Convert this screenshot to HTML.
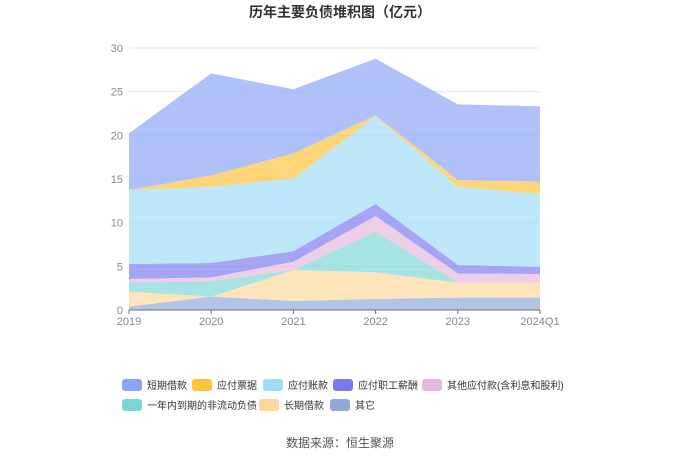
<!DOCTYPE html>
<html><head><meta charset="utf-8">
<style>
body{margin:0;background:#fff;font-family:"Liberation Sans","Noto Sans CJK SC",sans-serif;}
</style></head>
<body>
<svg width="680" height="460" id="chart">
<text x="340" y="17" text-anchor="middle" font-size="14" font-weight="bold" fill="#333">历年主要负债堆积图（亿元）</text>
<g id="grid"></g><g id="areas"></g><g id="axes"></g><g id="legend"></g>
<text x="340" y="447" text-anchor="middle" font-size="12" fill="#555">数据来源：恒生聚源</text>
</svg>
<script>
const categories=["2019","2020","2021","2022","2023","2024Q1"];
const yTicks=[0,5,10,15,20,25,30];
const seriesNames=["其它","长期借款","一年内到期的非流动负债","其他应付款(含利息和股利)","应付职工薪酬","应付账款","应付票据","短期借款"];
const other=[0.38,1.53,1.03,1.26,1.41,1.41];
const longLoan=[1.72,0,3.55,3.05,1.72,1.76];
const nonCurrent=[1.03,1.75,0,4.66,0,0];
const otherPay=[0.42,0.46,0.95,1.79,1.07,0.95];
const employee=[1.72,1.64,1.19,1.38,0.95,0.8];
const accounts=[8.47,8.7,8.32,10.06,8.97,8.36];
const bills=[0,1.34,2.9,0.09,0.77,1.41];
const shortLoan=[6.49,11.68,7.33,6.49,8.66,8.63];
const seriesValues=[other,longLoan,nonCurrent,otherPay,employee,accounts,bills,shortLoan];
const colors=["#8daad8","#fdd79a","#7dd6d6","#e8b7dc","#7b79f0","#9fdcf8","#fdc33b","#8aa4f8"];
const slugs=["other","long-term-loan","current-noncurrent","other-payables","employee-pay","accounts-payable","bills-payable","short-term-loan"];
const NS="http://www.w3.org/2000/svg";
const x0=129,x1=540,y0=310,y1=48,yMax=30;
const xs=i=>x0+(x1-x0)*i/(categories.length-1);
const ys=v=>y0-(y0-y1)*v/yMax;
function mk(t,a,p){const e=document.createElementNS(NS,t);for(const k in a)e.setAttribute(k,a[k]);p.appendChild(e);return e;}
const grid=document.getElementById('grid'),axes=document.getElementById('axes'),areas=document.getElementById('areas'),legend=document.getElementById('legend');
yTicks.forEach(t=>{
 const l=mk('line',{x1:x0,x2:x1,y1:ys(t),y2:ys(t),stroke:"#e6e9f2"},grid);
 
 
 const tx=mk('text',{x:x0-6,y:ys(t)+4,'text-anchor':'end','font-size':11,fill:'#888'},axes);
 tx.textContent=t;
 
 
});
const ax=mk('line',{x1:x0,x2:x1,y1:y0,y2:y0,stroke:"#6e7079"},axes);


categories.forEach((c,i)=>{
 const tk=mk('line',{x1:xs(i),x2:xs(i),y1:y0,y2:y0+4,stroke:"#6e7079"},axes);
 
 
 const tx=mk('text',{x:xs(i),y:y0+15,'text-anchor':'middle','font-size':11,fill:'#888'},axes);
 tx.textContent=c;
 
 
});
let base=categories.map(()=>0);
seriesValues.forEach((vals,s)=>{
 const top=base.map((b,i)=>b+vals[i]);
 let d=top.map((v,i)=>(i?'L':'M')+xs(i)+','+ys(v)).join(' ');
 for(let i=categories.length-1;i>=0;i--)d+=' L'+xs(i)+','+ys(base[i]);
 const p=mk('path',{d:d+'Z',fill:colors[s],'fill-opacity':0.68},areas);
 
 
 base=top;
});
const legendOrder=[7,6,5,4,3,2,1,0];
const pos=[[122,385],[192,385],[263,385],[333,385],[422,385],[122,405],[259,405],[330,405]];
legendOrder.forEach((s,k)=>{
 const g=mk('g',{},legend);
 
 
 mk('rect',{x:pos[k][0],y:pos[k][1]-6,width:20,height:12,rx:3,fill:colors[s]},g);
 const t=mk('text',{x:pos[k][0]+25,y:pos[k][1]+4,'font-size':10,fill:'#333'},g);
 t.textContent=seriesNames[s];
});
</script>
</body></html>
